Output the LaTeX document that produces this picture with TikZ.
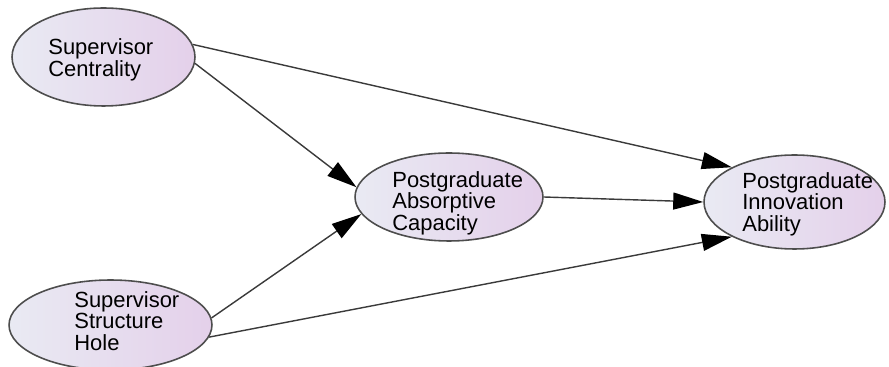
\documentclass[tikz,border=0pt]{standalone}
\usepackage{fontspec}
\setmainfont{Liberation Sans}
\usepackage{xcolor}
\usetikzlibrary{arrows.meta,positioning,shapes.geometric}
\definecolor{elleft}{HTML}{E9EAF3}
\definecolor{elright}{HTML}{E4D0EA}
\definecolor{elrim}{HTML}{4D4D4D}
\definecolor{linkgray}{HTML}{3A3A3A}

\begin{document}
\begin{tikzpicture}[
  x=0.02cm, y=-0.02cm,
  font=\fontsize{12.5}{12.2}\selectfont,
  v/.style={ellipse, draw=elrim, line width=0.9pt, left color=elleft, right color=elright, inner sep=0pt},
  lbl/.style={anchor=west, align=left, inner sep=0pt},
  arr/.style={-{Triangle[length=6mm,width=3.4mm,color=black]}, line width=0.8pt, linkgray}
]
\useasboundingbox (0,0) rectangle (889,367);
% constructs
\node[v, minimum width=3.66cm, minimum height=1.96cm] (sc) at (103.5,57) {};
\node[v, minimum width=4.06cm, minimum height=1.80cm] (ssh) at (110.5,325) {};
\node[v, minimum width=3.76cm, minimum height=1.76cm] (abs) at (449,197) {};
\node[v, minimum width=3.62cm, minimum height=1.88cm] (inn) at (794.5,202) {};
% labels
\node[lbl] (tsc) at (48,60) {Supervisor\\Centrality};
\node[lbl] (tssh) at (74,321) {Supervisor\\Structure\\Hole};
\node[lbl] (tabs) at (392,203) {Postgraduate\\Absorptive\\Capacity};
\node[lbl] (tinn) at (742,204) {Postgraduate\\Innovation\\Ability};
% paths
\draw[arr] (sc.8) -- (inn.151);
\draw[arr] (sc.-4) -- (abs.174);
\draw[arr] (ssh.4) -- (abs.-169);
\draw[arr] (ssh.-7) -- (inn.-151);
\draw[arr] (abs.east) -- (inn.west);
\end{tikzpicture}
\end{document}
